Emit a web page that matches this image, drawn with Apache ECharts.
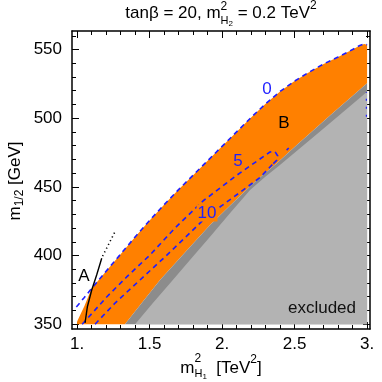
<!DOCTYPE html>
<html>
<head>
<meta charset="utf-8">
<script src="https://cdn.jsdelivr.net/npm/echarts@6/dist/echarts.min.js"></script>
<style>
html, body { margin: 0; padding: 0; background: #fff; }
#chart { width: 382px; height: 382px; }
</style>
</head>
<body>
<div id="chart"></div>
<script>
// ticks
const xMajor = [1, 1.5, 2, 2.5, 3];
const xMinor = [1, 1.1, 1.2, 1.3, 1.4, 1.5, 1.6, 1.7, 1.8, 1.9, 2, 2.1, 2.2, 2.3, 2.4, 2.5, 2.6, 2.7, 2.8, 2.9, 3];
const yMajor = [350, 400, 450, 500, 550];
const yMinor = [350, 360, 370, 380, 390, 400, 410, 420, 430, 440, 450, 460, 470, 480, 490, 500, 510, 520, 530, 540, 550, 560];

// allowed (orange) region: upper edge, right side, lower edge back
const allowedRegion = [
    [1.0, 350], [1.0, 352], [1.05, 363], [1.1, 376], [1.2, 388.5], [1.3, 401], [1.4, 413.5],
    [1.5, 425.5], [1.6, 437], [1.7, 448], [1.8, 458.5], [1.9, 469], [2.0, 479.5], [2.1, 490],
    [2.2, 500.5], [2.3, 510.5], [2.4, 519.5], [2.5, 527], [2.6, 533.5], [2.7, 539.5], [2.8, 544.5],
    [2.9, 550], [2.95, 553], [2.98, 554], [3.0, 553.5],
    [3.0, 525.4], [2.75, 502.5], [2.515, 480.5], [2.377, 467.2], [2.239, 455], [2.08, 439],
    [1.917, 422.2], [1.75, 403], [1.572, 382.2], [1.45, 366], [1.33, 350]
];
// dark grey strip below it
const edgeStrip = [
    [1.33, 350], [1.45, 366], [1.572, 382.2], [1.75, 403], [1.917, 422.2], [2.08, 439],
    [2.239, 455], [2.377, 467.2], [2.515, 480.5], [2.75, 502.5], [3.0, 525.4], [3.0, 350]
];
// excluded (light grey)
const excludedRegion = [
    [1.40, 350], [1.52, 365], [1.641, 379.8], [1.78, 397], [1.917, 413.7], [2.06, 431.5],
    [2.193, 447.7], [2.30, 457.5], [2.399, 465.9], [2.7, 492.5], [3.0, 519.3], [3.0, 350]
];

// contours
const contour0 = [
    [0.995, 362.5], [1.05, 369.5], [1.1, 376], [1.2, 388.5], [1.3, 401], [1.4, 413.5],
    [1.5, 425.5], [1.6, 437], [1.7, 448], [1.8, 458.5], [1.9, 469], [2.0, 479.5], [2.1, 490],
    [2.2, 500.5], [2.3, 510.5], [2.4, 519.5], [2.5, 527], [2.6, 533.5], [2.7, 539.5], [2.8, 544.5],
    [2.9, 550], [2.95, 553], [2.98, 554], [3.0, 553.5]
];
const contour5 = [
    [1.035, 350], [1.066, 353.5], [1.204, 369.8], [1.342, 384.4], [1.503, 400.4], [1.675, 420],
    [1.868, 439.7], [2.103, 458.6], [2.33, 475.4], [2.365, 475.6], [2.384, 472.5],
    [2.378, 469.5], [2.351, 466.7]
];
const contour10 = [
    [1.124, 350], [1.262, 365.4], [1.434, 382.2], [1.606, 399], [1.779, 416.5], [1.9, 429],
    [2.0, 436.5], [2.124, 446], [2.261, 456.8], [2.351, 466.7]
];
const contourBitB = [[2.445, 476.8], [2.468, 479.2]];
const contourBitEdge = [[2.995, 501], [2.995, 519]];

// line A
const lineA = [[1.055, 351], [1.071, 362.7], [1.101, 374.9], [1.135, 385.8], [1.170, 398]];
const lineADotted = [[1.176, 399.5], [1.262, 417.4]];

const FONT = '"Liberation Sans", Arial, sans-serif';
const BLUE = '#1f1fff';
const FS = 17;

const measure = document.createElement('canvas').getContext('2d');
function textWidth(t, s) {
    measure.font = s + 'px ' + FONT;
    return measure.measureText(t).width;
}

// label made of columns; each column holds pieces sharing the same x
function buildLabel(cols, cx, cy, rotation) {
    let x = 0;
    const kids = [];
    cols.forEach(function (col) {
        let cw = 0;
        col.forEach(function (p) {
            const dx = p.dx || 0;
            kids.push({
                type: 'text', x: x + dx, y: p.dy || 0, z: 100,
                style: { text: p.t, fontSize: p.s, fontFamily: FONT, fill: '#000', align: 'left', verticalAlign: 'middle' }
            });
            cw = Math.max(cw, dx + textWidth(p.t, p.s));
        });
        x += cw;
    });
    kids.forEach(function (k) { k.x -= x / 2; });
    return { type: 'group', x: cx, y: cy, z: 100, rotation: rotation || 0, children: kids };
}

function note(text, x, y, color, extra) {
    const style = { text: text, fontSize: FS, fontFamily: FONT, fill: color, align: 'center', verticalAlign: 'middle' };
    Object.assign(style, extra || {});
    return { type: 'text', x: x, y: y, z: 100, style: style };
}

function regionSeries(points, color) {
    return {
        type: 'custom', silent: true, clip: true,
        data: [points[0]],
        renderItem: function (params, api) {
            return {
                type: 'polygon',
                shape: { points: points.map(function (p) { return api.coord(p); }) },
                style: { fill: color }
            };
        }
    };
}

function lineSeries(points, color, width, dash) {
    return {
        type: 'line', data: points, symbol: 'none', silent: true, z: 5,
        lineStyle: { color: color, width: width, type: dash, cap: 'butt' }
    };
}

function xAxisOf(pos, ticks, len, withLine, withLabel) {
    return {
        type: 'value', position: pos, min: 0.965, max: 3.02,
        axisLine: { show: withLine, onZero: false, lineStyle: { color: '#000', width: 1.5 } },
        axisTick: { show: true, inside: true, length: len, customValues: ticks, lineStyle: { color: '#000', width: 1 } },
        axisLabel: {
            show: withLabel, customValues: xMajor, margin: 7, fontSize: FS, color: '#000', fontFamily: FONT,
            formatter: function (v) { return Math.round(v) === v ? v + '.' : String(v); }
        },
        splitLine: { show: false }
    };
}
function yAxisOf(pos, ticks, len, withLine, withLabel) {
    return {
        type: 'value', position: pos, min: 346.5, max: 563.5,
        axisLine: { show: withLine, onZero: false, lineStyle: { color: '#000', width: 1.5 } },
        axisTick: { show: true, inside: true, length: len, customValues: ticks, lineStyle: { color: '#000', width: 1 } },
        axisLabel: { show: withLabel, customValues: yMajor, margin: 10, fontSize: FS, color: '#000', fontFamily: FONT },
        splitLine: { show: false }
    };
}

const chart = echarts.init(document.getElementById('chart'));
chart.setOption({
    animation: false,
    backgroundColor: '#fff',
    grid: { left: 72, right: 12, top: 31, bottom: 53, containLabel: false, outerBoundsMode: 'none' },
    xAxis: [
        xAxisOf('bottom', xMajor, 7, true, true),
        xAxisOf('bottom', xMinor, 4, false, false),
        xAxisOf('top', xMajor, 7, true, false),
        xAxisOf('top', xMinor, 4, false, false)
    ],
    yAxis: [
        yAxisOf('left', yMajor, 7, true, true),
        yAxisOf('left', yMinor, 4, false, false),
        yAxisOf('right', yMajor, 7, true, false),
        yAxisOf('right', yMinor, 4, false, false)
    ],
    series: [
        regionSeries(allowedRegion, '#ff8000'),
        regionSeries(edgeStrip, '#8c8c8c'),
        regionSeries(excludedRegion, '#b3b3b3'),
        lineSeries(contour0, BLUE, 1.6, [5, 4]),
        lineSeries(contour5, BLUE, 1.6, [5, 4]),
        lineSeries(contour10, BLUE, 1.6, [5, 4]),
        lineSeries(contourBitB, BLUE, 1.6, [3, 3]),
        lineSeries(contourBitEdge, BLUE, 1.2, [2, 6]),
        lineSeries(lineA, '#000', 1.4, 'solid'),
        lineSeries(lineADotted, '#000', 1.6, [1.2, 3])
    ],
    graphic: [
        buildLabel([
            [{ t: 'tanβ = 20, m', s: FS }],
            [{ t: '2', s: 12, dy: -6 }, { t: 'H', s: 11, dy: 8 }, { t: '2', s: 8, dy: 11, dx: textWidth('H', 11) }],
            [{ t: ' = 0.2 TeV', s: FS }],
            [{ t: '2', s: 12, dy: -7 }]
        ], 221, 13, 0),
        buildLabel([
            [{ t: 'm', s: FS }],
            [{ t: '2', s: 12, dy: -9 }, { t: 'H', s: 11, dy: 6 }, { t: '1', s: 8, dy: 9, dx: textWidth('H', 11) }],
            [{ t: '  [TeV', s: FS }],
            [{ t: '2', s: 12, dy: -8 }],
            [{ t: ']', s: FS }]
        ], 221, 368, 0),
        buildLabel([
            [{ t: 'm', s: FS }],
            [{ t: '1/2', s: 12, dy: 5 }],
            [{ t: ' [GeV]', s: FS }]
        ], 15, 181, Math.PI / 2),
        note('A', 84, 276, '#000'),
        note('B', 284, 123, '#000'),
        note('0', 267, 89, BLUE),
        note('5', 238, 161, BLUE),
        note('10', 207, 213, BLUE, { backgroundColor: '#ff8000', padding: [0, 1] }),
        note('excluded', 322, 308, '#111')
    ]
});
</script>
</body>
</html>
